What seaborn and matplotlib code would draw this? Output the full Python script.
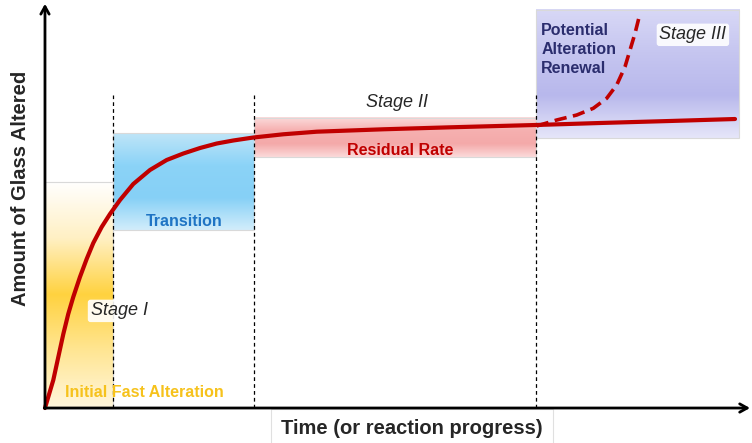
import numpy as np
import pandas as pd
import matplotlib.pyplot as plt
import seaborn as sns
from matplotlib.colors import LinearSegmentedColormap
from matplotlib.patches import Rectangle

# ==========================================
# data (time and amount in arbitrary units, 0-100)
# ==========================================
curve_time = [0.0, 1.18, 1.89, 2.60, 3.30, 4.01, 4.96, 5.91, 6.85, 8.04,
              9.22, 10.64, 12.52, 14.89, 17.26, 19.62, 22.0, 24.36, 26.71,
              29.55, 33.80, 38.54, 47.99, 57.45, 69.5, 78.7, 88.65, 97.87]
curve_amount = [0.0, 6.95, 12.66, 18.36, 23.33, 27.54, 32.51, 36.97, 40.94,
                44.91, 48.14, 51.61, 55.58, 59.06, 61.54, 63.15, 64.52, 65.63,
                66.38, 67.12, 67.92, 68.56, 69.16, 69.65, 70.22, 70.72, 71.22,
                71.71]

renewal_time = [69.74, 72.58, 75.42, 77.77, 79.67, 81.09, 82.27, 82.98,
                83.69, 84.40]
renewal_amount = [69.98, 71.46, 72.70, 74.37, 76.85, 80.15, 84.69, 88.83,
                  92.98, 97.94]

stage_bounds = [9.6, 29.6, 69.6]

# shaded zones: (x0, x1, y0, y1, colours top->bottom)
zones = {
    "initial": (0.0, 9.6, 0.0, 56.1, ["#ffffff", "#fff0c4", "#ffd23f", "#ffe694", "#fff6dc"]),
    "transition": (9.6, 29.6, 44.2, 68.2, ["#bfe5f8", "#8bd3f7", "#86d0f6", "#d2edfb"]),
    "residual": (29.6, 69.6, 62.3, 72.0, ["#fbdcdc", "#f6b0b0", "#f4a9a9", "#fbdada"]),
    "renewal": (69.6, 98.4, 67.0, 98.8, ["#d8d8f6", "#c6c6f0", "#b8b8ec", "#e6e6f9"]),
}

sns.set_theme(style="white")
plt.rcParams['font.family'] = ['Liberation Sans', 'DejaVu Sans']

fig = plt.figure(figsize=(7.52, 4.43), dpi=100)
ax = fig.add_axes([0, 0, 1, 1])
ax.set_xlim(-6.38, 100.28)
ax.set_ylim(-8.68, 101.24)
ax.axis('off')

# gradient boxes
for name, (x0, x1, y0, y1, cols) in zones.items():
    cmap = LinearSegmentedColormap.from_list(name, cols[::-1])
    grad = np.linspace(0, 1, 256).reshape(-1, 1)
    ax.imshow(grad, extent=(x0, x1, y0, y1), origin='lower', cmap=cmap,
              aspect='auto', zorder=1)
    ax.add_patch(Rectangle((x0, y0), x1 - x0, y1 - y0, fill=False,
                           ec="#d9d9d9", lw=0.8, zorder=1.5))

# stage boundaries
ax.vlines(stage_bounds, 0, 77.7, colors='black', linestyles=(0, (3, 2.5)),
          lw=0.9, zorder=2)

# curves
sns.lineplot(x=curve_time, y=curve_amount, ax=ax, color="#c00000", lw=3,
             sort=False, estimator=None, zorder=4)
sns.lineplot(x=renewal_time, y=renewal_amount, ax=ax, color="#c00000", lw=2.6,
             sort=False, estimator=None, zorder=4, linestyle=(0, (3.4, 1.8)))

# axes with arrows
arrow = dict(arrowstyle='->,head_length=0.45,head_width=0.25', color='black',
             lw=2, shrinkA=0, shrinkB=0)
ax.annotate('', xy=(100.0, 0), xytext=(-0.1, 0), arrowprops=arrow, zorder=5)
ax.annotate('', xy=(0, 100.3), xytext=(0, -0.1), arrowprops=arrow, zorder=5)

# labels
ax.text(-3.5, 54.6, 'Amount of Glass Altered', rotation=90, ha='center',
        va='center', fontsize=14.5, fontweight='bold')
ax.text(52.1, -5.0, 'Time (or reaction progress)', ha='center', va='center',
        fontsize=14.5, fontweight='bold',
        bbox=dict(boxstyle='square,pad=0.5', fc='white', ec='#e0e0e0', lw=0.8))

ax.text(2.84, 3.97, 'Initial Fast Alteration', ha='left', va='center',
        fontsize=11.5, fontweight='bold', color="#f6c21c", zorder=6)
ax.text(10.5, 24.1, 'Stage I', ha='center', va='center', fontsize=13,
        style='italic', zorder=6,
        bbox=dict(boxstyle='round,pad=0.15', fc='white', ec='none', alpha=0.9))
ax.text(19.7, 46.2, 'Transition', ha='center', va='center', fontsize=11.5,
        fontweight='bold', color="#1f74c4", zorder=6)
ax.text(49.9, 75.7, 'Stage II', ha='center', va='center', fontsize=13,
        style='italic', zorder=6)
ax.text(50.4, 63.8, 'Residual Rate', ha='center', va='center', fontsize=11.5,
        fontweight='bold', color="#c00000", zorder=6)
ax.text(70.4, 95.6, 'Potential\nAlteration\nRenewal', ha='left', va='top',
        fontsize=11.5, fontweight='bold', color="#2b2d6e", linespacing=1.35,
        zorder=6)
ax.text(91.9, 92.6, 'Stage III', ha='center', va='center', fontsize=13,
        style='italic', zorder=6,
        bbox=dict(boxstyle='round,pad=0.15', fc='white', ec='none', alpha=0.9))

fig.savefig('out.png', dpi=100)
